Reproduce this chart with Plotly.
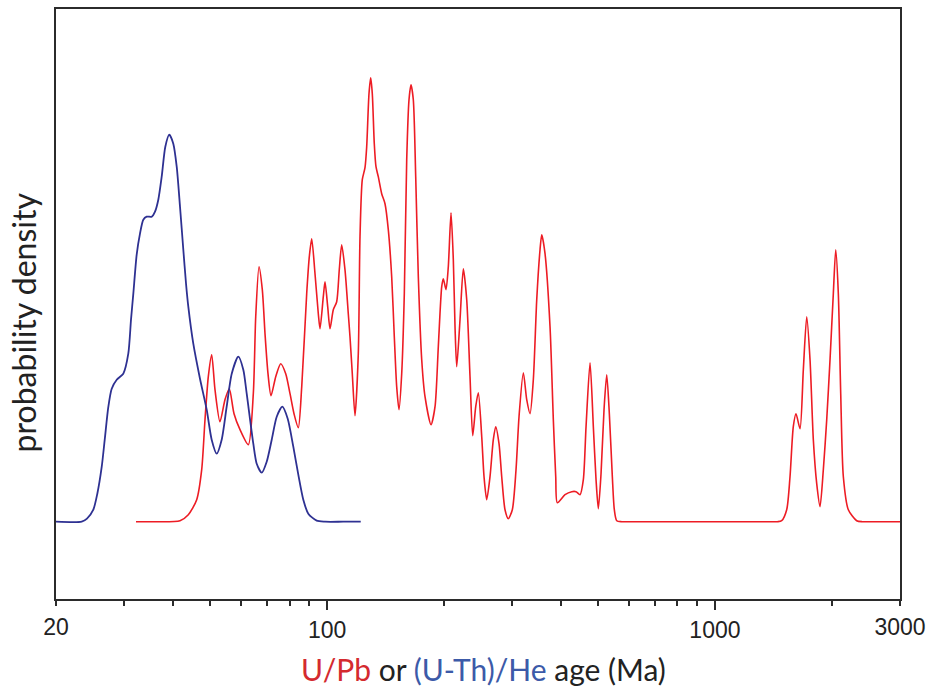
import plotly.graph_objects as go

# (U-Th)/He probability density (blue)
he_age = [20, 23.3, 24.04, 24.96, 25.56, 26.24, 26.71, 27.29, 27.84, 28.68, 29.82,
          30.72, 31.22, 31.65, 32.29, 32.93, 33.58, 34.27, 35.31, 36.0, 36.71,
          37.46, 38.27, 39.19, 40.13, 40.95, 41.76, 42.59, 43.28, 43.87, 45.19,
          47.02, 48.93, 50.40, 51.92, 53.48, 55.09, 56.77, 59.03, 60.81, 62.05,
          64.53, 65.85, 67.83, 69.87, 71.98, 74.15, 76.65, 79.15, 81.82, 84.29,
          86.83, 89.44, 94.01, 98.77, 110, 122.1]
he_dens = [0, 0, 0.03, 0.12, 0.28, 0.55, 0.82, 1.15, 1.33, 1.42, 1.48,
           1.68, 2.02, 2.28, 2.67, 2.88, 3.02, 3.05, 3.05, 3.10, 3.22,
           3.45, 3.75, 3.87, 3.78, 3.55, 3.15, 2.72, 2.38, 2.15, 1.78,
           1.43, 1.12, 0.82, 0.68, 0.82, 1.15, 1.48, 1.65, 1.52, 1.28,
           0.78, 0.58, 0.49, 0.60, 0.82, 1.05, 1.15, 1.03, 0.75, 0.47,
           0.22, 0.08, 0.01, 0, 0, 0]

# U/Pb probability density (red)
upb_age = [32.16, 36.0, 41.76, 43.87, 46.11, 47.50, 48.44, 49.40, 50.40, 51.40, 52.94,
           54.54, 55.95, 57.55, 59.63, 62.64, 64.53, 65.46, 66.75, 68.07, 69.17,
           70.41, 71.68, 73.71, 75.93, 78.22, 80.24, 82.16, 84.29, 86.02, 88.59,
           89.98, 91.27, 93.07, 94.92, 95.88, 97.77, 98.77, 100.36, 101.74, 103.75,
           105.86, 107.50, 109.05, 111.2, 113.41, 114.56, 116.13, 118.01, 120.35, 121.57,
           123.24, 125.23, 126.50, 128.24, 129.54, 130.78, 132.34, 133.68, 135.52, 138.28,
           141.02, 143.81, 146.74, 149.03, 151.17, 153.25, 155.72, 158.15, 160.42, 162.63,
           164.57, 166.83, 169.23, 171.87, 175.38, 178.85, 185.33, 189.78, 193.53, 197.48,
           199.36, 202.58, 205.37, 208.69, 211.56, 213.71, 215.87, 220.15, 224.50, 229.08,
           233.61, 237.39, 241.66, 245.42, 250.43, 253.87, 257.95, 263.05, 268.26, 272.11,
           277.50, 281.99, 287.56, 293.25, 300.30, 306.97, 312.49, 320.59, 327.13, 333.60,
           340.20, 347.14, 354.01, 357.60, 364.68, 375.66, 383.09, 388.59, 392.29, 410.64,
           427.32, 438.35, 448.92, 457.80, 465.19, 476.37, 485.79, 493.64, 500.42, 508.5,
           517.6, 526.0, 534.2, 543.8, 550.3, 558.2, 575, 600, 800, 1000,
           1200, 1400, 1450, 1486, 1531, 1561.5, 1592.3,
           1618, 1657, 1690, 1724.4, 1758.5, 1793.3, 1829.8, 1866, 1903, 1941.7,
           1980.1, 2019.3, 2048.3, 2080.2, 2110, 2143, 2207.5, 2320, 2400, 2600, 3000]
upb_dens = [0, 0, 0.01, 0.07, 0.22, 0.52, 1.02, 1.45, 1.67, 1.32, 1.0,
            1.22, 1.33, 1.08, 0.92, 0.77, 1.28, 2.05, 2.55, 2.32, 1.88,
            1.48, 1.26, 1.45, 1.58, 1.48, 1.28, 1.08, 0.94, 1.35, 2.28,
            2.65, 2.83, 2.48, 2.08, 1.93, 2.25, 2.40, 2.15, 1.93, 2.12,
            2.20, 2.52, 2.77, 2.52, 2.08, 1.85, 1.48, 1.06, 1.68, 2.85,
            3.42, 3.54, 3.75, 4.28, 4.44, 4.28, 3.78, 3.55, 3.45, 3.28,
            3.18, 2.92, 2.45, 1.85, 1.35, 1.12, 1.48, 2.28, 3.62, 4.22,
            4.37, 4.22, 3.45, 2.45, 1.62, 1.25, 0.97, 1.15, 1.75, 2.35,
            2.43, 2.32, 2.55, 3.09, 2.62, 1.95, 1.55, 2.02, 2.53, 2.22,
            1.45, 0.86, 1.15, 1.29, 0.85, 0.45, 0.22, 0.45, 0.82, 0.95,
            0.78, 0.45, 0.12, 0.03, 0.12, 0.52, 1.05, 1.49, 1.22, 1.08,
            1.42, 2.22, 2.72, 2.87, 2.68, 1.95, 1.02, 0.45, 0.19, 0.27,
            0.30, 0.30, 0.27, 0.42, 0.95, 1.59, 0.95, 0.42, 0.13, 0.48,
            1.12, 1.47, 1.08, 0.45, 0.12, 0.01, 0, 0, 0, 0,
            0, 0, 0, 0.01, 0.12, 0.45, 0.95,
            1.08, 0.93, 1.52, 2.05, 1.62, 0.82, 0.38, 0.15, 0.52, 1.02,
            1.62, 2.28, 2.72, 2.28, 1.28, 0.45, 0.12, 0.01, 0, 0, 0]

major_ticks = [100, 1000]
major_labels = ["100", "1000"]
edge_ticks = [20, 3000]
edge_labels = ["20", "3000"]
minor_ticks = [20, 30, 40, 50, 60, 70, 80, 90, 200, 300, 400, 500, 600, 700,
               800, 900, 2000, 3000]

RED = "#ed1c24"
BLUE = "#2e3192"
AXC = "#2b2b2b"

fig = go.Figure()
fig.add_trace(go.Scatter(x=upb_age, y=upb_dens, mode="lines",
                         line=dict(color=RED, width=1.6, shape="spline", smoothing=0.7),
                         hoverinfo="skip", showlegend=False))
fig.add_trace(go.Scatter(x=he_age, y=he_dens, mode="lines", xaxis="x2",
                         line=dict(color=BLUE, width=1.8, shape="spline", smoothing=0.7),
                         hoverinfo="skip", showlegend=False))

rng = [1.30103, 3.4771213]
tickfont = dict(family="Liberation Sans, Arial", size=23, color="#222")
fig.update_layout(
    width=926, height=686,
    margin=dict(l=56, r=26, t=9, b=87, autoexpand=False),
    paper_bgcolor="white", plot_bgcolor="white",
    xaxis=dict(type="log", range=rng, tickmode="array", tickvals=major_ticks,
               ticktext=major_labels, ticks="outside", ticklen=9, tickwidth=1.5,
               tickcolor=AXC, showline=True, linecolor=AXC, linewidth=1.8,
               mirror=True, showgrid=False, zeroline=False, tickfont=tickfont,
               automargin=False,
               minor=dict(tickmode="array", tickvals=minor_ticks, ticks="outside",
                          ticklen=5, tickwidth=1.5, tickcolor=AXC, showgrid=False)),
    xaxis2=dict(type="log", range=rng, overlaying="x", anchor="y", side="bottom",
                tickmode="array", tickvals=edge_ticks, ticktext=edge_labels,
                ticks="outside", ticklen=7, tickcolor="rgba(0,0,0,0)",
                showline=False, showgrid=False, zeroline=False,
                tickfont=tickfont, automargin=False),
    yaxis=dict(range=[-0.773, 5.127], showticklabels=False, ticks="",
               showgrid=False, zeroline=False, showline=True, linecolor=AXC,
               linewidth=1.8, mirror=True, automargin=False),
    annotations=[
        dict(text="<span style='color:#d42a2f'>U/Pb</span> or "
                  "<span style='color:#3c5aa8'>(U-Th)/He</span> age (Ma)",
             xref="paper", yref="paper", x=0.5071, y=-0.119,
             xanchor="center", yanchor="middle", showarrow=False,
             font=dict(family="Lato", size=30, color="#222")),
        dict(text="probability density", xref="paper", yref="paper",
             x=-0.0385, y=0.468, textangle=-90, xanchor="center",
             yanchor="middle", showarrow=False,
             font=dict(family="Lato", size=32, color="#222")),
    ],
)

fig.write_html("out.html")
